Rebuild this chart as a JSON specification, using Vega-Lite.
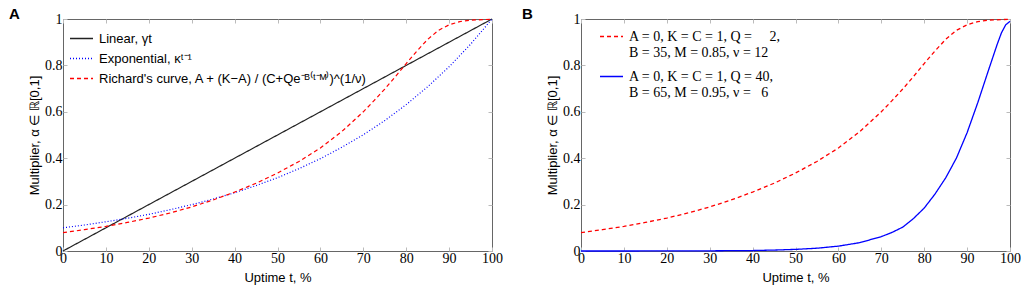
{
  "$schema": "https://vega.github.io/schema/vega-lite/v6.json",
  "background": "white",
  "padding": {"left": 8, "top": 6, "right": 5, "bottom": 2},
  "spacing": 18,
  "datasets": {
    "a": [
      {"s": "Linear, γt", "t": 0, "y": 0},
      {"s": "Linear, γt", "t": 100, "y": 1},
      {"s": "Exponential, κᵗ⁻¹", "t": 0, "y": 0.1},
      {"s": "Exponential, κᵗ⁻¹", "t": 5, "y": 0.112},
      {"s": "Exponential, κᵗ⁻¹", "t": 10, "y": 0.126},
      {"s": "Exponential, κᵗ⁻¹", "t": 15, "y": 0.141},
      {"s": "Exponential, κᵗ⁻¹", "t": 20, "y": 0.158},
      {"s": "Exponential, κᵗ⁻¹", "t": 25, "y": 0.178},
      {"s": "Exponential, κᵗ⁻¹", "t": 30, "y": 0.2},
      {"s": "Exponential, κᵗ⁻¹", "t": 35, "y": 0.224},
      {"s": "Exponential, κᵗ⁻¹", "t": 40, "y": 0.251},
      {"s": "Exponential, κᵗ⁻¹", "t": 45, "y": 0.282},
      {"s": "Exponential, κᵗ⁻¹", "t": 50, "y": 0.316},
      {"s": "Exponential, κᵗ⁻¹", "t": 55, "y": 0.355},
      {"s": "Exponential, κᵗ⁻¹", "t": 60, "y": 0.398},
      {"s": "Exponential, κᵗ⁻¹", "t": 65, "y": 0.447},
      {"s": "Exponential, κᵗ⁻¹", "t": 70, "y": 0.501},
      {"s": "Exponential, κᵗ⁻¹", "t": 75, "y": 0.562},
      {"s": "Exponential, κᵗ⁻¹", "t": 80, "y": 0.631},
      {"s": "Exponential, κᵗ⁻¹", "t": 85, "y": 0.708},
      {"s": "Exponential, κᵗ⁻¹", "t": 90, "y": 0.794},
      {"s": "Exponential, κᵗ⁻¹", "t": 95, "y": 0.891},
      {"s": "Exponential, κᵗ⁻¹", "t": 100, "y": 1.0},
      {"s": "Richard's curve, A + (K−A) / (C+Qe⁻ᴮ⁽ᵗ⁻ᴹ⁾)^(1/ν)", "t": 0, "y": 0.079},
      {"s": "Richard's curve, A + (K−A) / (C+Qe⁻ᴮ⁽ᵗ⁻ᴹ⁾)^(1/ν)", "t": 5, "y": 0.092},
      {"s": "Richard's curve, A + (K−A) / (C+Qe⁻ᴮ⁽ᵗ⁻ᴹ⁾)^(1/ν)", "t": 10, "y": 0.106},
      {"s": "Richard's curve, A + (K−A) / (C+Qe⁻ᴮ⁽ᵗ⁻ᴹ⁾)^(1/ν)", "t": 15, "y": 0.123},
      {"s": "Richard's curve, A + (K−A) / (C+Qe⁻ᴮ⁽ᵗ⁻ᴹ⁾)^(1/ν)", "t": 20, "y": 0.142},
      {"s": "Richard's curve, A + (K−A) / (C+Qe⁻ᴮ⁽ᵗ⁻ᴹ⁾)^(1/ν)", "t": 25, "y": 0.164},
      {"s": "Richard's curve, A + (K−A) / (C+Qe⁻ᴮ⁽ᵗ⁻ᴹ⁾)^(1/ν)", "t": 30, "y": 0.19},
      {"s": "Richard's curve, A + (K−A) / (C+Qe⁻ᴮ⁽ᵗ⁻ᴹ⁾)^(1/ν)", "t": 35, "y": 0.22},
      {"s": "Richard's curve, A + (K−A) / (C+Qe⁻ᴮ⁽ᵗ⁻ᴹ⁾)^(1/ν)", "t": 40, "y": 0.254},
      {"s": "Richard's curve, A + (K−A) / (C+Qe⁻ᴮ⁽ᵗ⁻ᴹ⁾)^(1/ν)", "t": 45, "y": 0.292},
      {"s": "Richard's curve, A + (K−A) / (C+Qe⁻ᴮ⁽ᵗ⁻ᴹ⁾)^(1/ν)", "t": 50, "y": 0.336},
      {"s": "Richard's curve, A + (K−A) / (C+Qe⁻ᴮ⁽ᵗ⁻ᴹ⁾)^(1/ν)", "t": 55, "y": 0.386},
      {"s": "Richard's curve, A + (K−A) / (C+Qe⁻ᴮ⁽ᵗ⁻ᴹ⁾)^(1/ν)", "t": 60, "y": 0.444},
      {"s": "Richard's curve, A + (K−A) / (C+Qe⁻ᴮ⁽ᵗ⁻ᴹ⁾)^(1/ν)", "t": 65, "y": 0.515},
      {"s": "Richard's curve, A + (K−A) / (C+Qe⁻ᴮ⁽ᵗ⁻ᴹ⁾)^(1/ν)", "t": 70, "y": 0.6},
      {"s": "Richard's curve, A + (K−A) / (C+Qe⁻ᴮ⁽ᵗ⁻ᴹ⁾)^(1/ν)", "t": 72.5, "y": 0.648},
      {"s": "Richard's curve, A + (K−A) / (C+Qe⁻ᴮ⁽ᵗ⁻ᴹ⁾)^(1/ν)", "t": 75, "y": 0.698},
      {"s": "Richard's curve, A + (K−A) / (C+Qe⁻ᴮ⁽ᵗ⁻ᴹ⁾)^(1/ν)", "t": 77.5, "y": 0.752},
      {"s": "Richard's curve, A + (K−A) / (C+Qe⁻ᴮ⁽ᵗ⁻ᴹ⁾)^(1/ν)", "t": 80, "y": 0.808},
      {"s": "Richard's curve, A + (K−A) / (C+Qe⁻ᴮ⁽ᵗ⁻ᴹ⁾)^(1/ν)", "t": 82.5, "y": 0.862},
      {"s": "Richard's curve, A + (K−A) / (C+Qe⁻ᴮ⁽ᵗ⁻ᴹ⁾)^(1/ν)", "t": 85, "y": 0.912},
      {"s": "Richard's curve, A + (K−A) / (C+Qe⁻ᴮ⁽ᵗ⁻ᴹ⁾)^(1/ν)", "t": 87.5, "y": 0.951},
      {"s": "Richard's curve, A + (K−A) / (C+Qe⁻ᴮ⁽ᵗ⁻ᴹ⁾)^(1/ν)", "t": 90, "y": 0.975},
      {"s": "Richard's curve, A + (K−A) / (C+Qe⁻ᴮ⁽ᵗ⁻ᴹ⁾)^(1/ν)", "t": 92.5, "y": 0.989},
      {"s": "Richard's curve, A + (K−A) / (C+Qe⁻ᴮ⁽ᵗ⁻ᴹ⁾)^(1/ν)", "t": 95, "y": 0.995},
      {"s": "Richard's curve, A + (K−A) / (C+Qe⁻ᴮ⁽ᵗ⁻ᴹ⁾)^(1/ν)", "t": 100, "y": 0.999}
    ],
    "b": [
      {"s": "A = 0, K = C = 1, Q = \u2007\u20072,|B = 35, M = 0.85, ν = 12", "t": 0, "y": 0.079},
      {"s": "A = 0, K = C = 1, Q = \u2007\u20072,|B = 35, M = 0.85, ν = 12", "t": 5, "y": 0.092},
      {"s": "A = 0, K = C = 1, Q = \u2007\u20072,|B = 35, M = 0.85, ν = 12", "t": 10, "y": 0.106},
      {"s": "A = 0, K = C = 1, Q = \u2007\u20072,|B = 35, M = 0.85, ν = 12", "t": 15, "y": 0.123},
      {"s": "A = 0, K = C = 1, Q = \u2007\u20072,|B = 35, M = 0.85, ν = 12", "t": 20, "y": 0.142},
      {"s": "A = 0, K = C = 1, Q = \u2007\u20072,|B = 35, M = 0.85, ν = 12", "t": 25, "y": 0.164},
      {"s": "A = 0, K = C = 1, Q = \u2007\u20072,|B = 35, M = 0.85, ν = 12", "t": 30, "y": 0.19},
      {"s": "A = 0, K = C = 1, Q = \u2007\u20072,|B = 35, M = 0.85, ν = 12", "t": 35, "y": 0.22},
      {"s": "A = 0, K = C = 1, Q = \u2007\u20072,|B = 35, M = 0.85, ν = 12", "t": 40, "y": 0.254},
      {"s": "A = 0, K = C = 1, Q = \u2007\u20072,|B = 35, M = 0.85, ν = 12", "t": 45, "y": 0.292},
      {"s": "A = 0, K = C = 1, Q = \u2007\u20072,|B = 35, M = 0.85, ν = 12", "t": 50, "y": 0.336},
      {"s": "A = 0, K = C = 1, Q = \u2007\u20072,|B = 35, M = 0.85, ν = 12", "t": 55, "y": 0.386},
      {"s": "A = 0, K = C = 1, Q = \u2007\u20072,|B = 35, M = 0.85, ν = 12", "t": 60, "y": 0.444},
      {"s": "A = 0, K = C = 1, Q = \u2007\u20072,|B = 35, M = 0.85, ν = 12", "t": 65, "y": 0.515},
      {"s": "A = 0, K = C = 1, Q = \u2007\u20072,|B = 35, M = 0.85, ν = 12", "t": 70, "y": 0.6},
      {"s": "A = 0, K = C = 1, Q = \u2007\u20072,|B = 35, M = 0.85, ν = 12", "t": 72.5, "y": 0.648},
      {"s": "A = 0, K = C = 1, Q = \u2007\u20072,|B = 35, M = 0.85, ν = 12", "t": 75, "y": 0.698},
      {"s": "A = 0, K = C = 1, Q = \u2007\u20072,|B = 35, M = 0.85, ν = 12", "t": 77.5, "y": 0.752},
      {"s": "A = 0, K = C = 1, Q = \u2007\u20072,|B = 35, M = 0.85, ν = 12", "t": 80, "y": 0.808},
      {"s": "A = 0, K = C = 1, Q = \u2007\u20072,|B = 35, M = 0.85, ν = 12", "t": 82.5, "y": 0.862},
      {"s": "A = 0, K = C = 1, Q = \u2007\u20072,|B = 35, M = 0.85, ν = 12", "t": 85, "y": 0.912},
      {"s": "A = 0, K = C = 1, Q = \u2007\u20072,|B = 35, M = 0.85, ν = 12", "t": 87.5, "y": 0.951},
      {"s": "A = 0, K = C = 1, Q = \u2007\u20072,|B = 35, M = 0.85, ν = 12", "t": 90, "y": 0.975},
      {"s": "A = 0, K = C = 1, Q = \u2007\u20072,|B = 35, M = 0.85, ν = 12", "t": 92.5, "y": 0.989},
      {"s": "A = 0, K = C = 1, Q = \u2007\u20072,|B = 35, M = 0.85, ν = 12", "t": 95, "y": 0.995},
      {"s": "A = 0, K = C = 1, Q = \u2007\u20072,|B = 35, M = 0.85, ν = 12", "t": 100, "y": 0.999},
      {"s": "A = 0, K = C = 1, Q = 40,|B = 65, M = 0.95, ν = \u20076", "t": 0, "y": 0},
      {"s": "A = 0, K = C = 1, Q = 40,|B = 65, M = 0.95, ν = \u20076", "t": 10, "y": 0},
      {"s": "A = 0, K = C = 1, Q = 40,|B = 65, M = 0.95, ν = \u20076", "t": 20, "y": 0.0003},
      {"s": "A = 0, K = C = 1, Q = 40,|B = 65, M = 0.95, ν = \u20076", "t": 30, "y": 0.0008},
      {"s": "A = 0, K = C = 1, Q = 40,|B = 65, M = 0.95, ν = \u20076", "t": 40, "y": 0.002},
      {"s": "A = 0, K = C = 1, Q = 40,|B = 65, M = 0.95, ν = \u20076", "t": 45, "y": 0.004},
      {"s": "A = 0, K = C = 1, Q = 40,|B = 65, M = 0.95, ν = \u20076", "t": 50, "y": 0.007},
      {"s": "A = 0, K = C = 1, Q = 40,|B = 65, M = 0.95, ν = \u20076", "t": 55, "y": 0.012},
      {"s": "A = 0, K = C = 1, Q = 40,|B = 65, M = 0.95, ν = \u20076", "t": 60, "y": 0.021},
      {"s": "A = 0, K = C = 1, Q = 40,|B = 65, M = 0.95, ν = \u20076", "t": 65, "y": 0.036},
      {"s": "A = 0, K = C = 1, Q = 40,|B = 65, M = 0.95, ν = \u20076", "t": 70, "y": 0.062},
      {"s": "A = 0, K = C = 1, Q = 40,|B = 65, M = 0.95, ν = \u20076", "t": 72.5, "y": 0.08},
      {"s": "A = 0, K = C = 1, Q = 40,|B = 65, M = 0.95, ν = \u20076", "t": 75, "y": 0.103},
      {"s": "A = 0, K = C = 1, Q = 40,|B = 65, M = 0.95, ν = \u20076", "t": 77.5, "y": 0.14},
      {"s": "A = 0, K = C = 1, Q = 40,|B = 65, M = 0.95, ν = \u20076", "t": 80, "y": 0.185},
      {"s": "A = 0, K = C = 1, Q = 40,|B = 65, M = 0.95, ν = \u20076", "t": 82.5, "y": 0.245},
      {"s": "A = 0, K = C = 1, Q = 40,|B = 65, M = 0.95, ν = \u20076", "t": 85, "y": 0.315},
      {"s": "A = 0, K = C = 1, Q = 40,|B = 65, M = 0.95, ν = \u20076", "t": 87.5, "y": 0.4},
      {"s": "A = 0, K = C = 1, Q = 40,|B = 65, M = 0.95, ν = \u20076", "t": 90, "y": 0.51},
      {"s": "A = 0, K = C = 1, Q = 40,|B = 65, M = 0.95, ν = \u20076", "t": 92.5, "y": 0.64},
      {"s": "A = 0, K = C = 1, Q = 40,|B = 65, M = 0.95, ν = \u20076", "t": 95, "y": 0.78},
      {"s": "A = 0, K = C = 1, Q = 40,|B = 65, M = 0.95, ν = \u20076", "t": 97, "y": 0.89},
      {"s": "A = 0, K = C = 1, Q = 40,|B = 65, M = 0.95, ν = \u20076", "t": 98, "y": 0.94},
      {"s": "A = 0, K = C = 1, Q = 40,|B = 65, M = 0.95, ν = \u20076", "t": 99, "y": 0.975},
      {"s": "A = 0, K = C = 1, Q = 40,|B = 65, M = 0.95, ν = \u20076", "t": 100, "y": 0.99}
    ]
  },
  "hconcat": [
    {
      "width": 429,
      "height": 232,
      "title": {"text": "A", "dx": -54},
      "data": {"name": "a"},
      "layer": [
        {
          "mark": {"type": "line", "strokeWidth": 1.2},
          "encoding": {
            "x": {"field": "t", "type": "quantitative", "scale": {"domain": [0, 100], "nice": false},
              "axis": {"orient": "bottom", "values": [0, 10, 20, 30, 40, 50, 60, 70, 80, 90, 100], "title": "Uptime t, %"}},
            "y": {"field": "y", "type": "quantitative", "scale": {"domain": [0, 1], "nice": false},
              "axis": {"orient": "left", "values": [0, 0.2, 0.4, 0.6, 0.8, 1], "format": "~g", "title": "Multiplier, α ∈ ℝ[0,1]"}},
            "color": {"field": "s", "type": "nominal", "title": null,
              "scale": {"domain": ["Linear, γt", "Exponential, κᵗ⁻¹", "Richard's curve, A + (K−A) / (C+Qe⁻ᴮ⁽ᵗ⁻ᴹ⁾)^(1/ν)"], "range": ["#222222", "#0000ff", "#ff0000"]},
              "legend": {"orient": "none", "legendX": 6, "legendY": 7, "labelFont": "Liberation Sans", "labelFontSize": 13, "rowPadding": 0}},
            "strokeDash": {"field": "s", "type": "nominal", "title": null,
              "scale": {"domain": ["Linear, γt", "Exponential, κᵗ⁻¹", "Richard's curve, A + (K−A) / (C+Qe⁻ᴮ⁽ᵗ⁻ᴹ⁾)^(1/ν)"], "range": [[1, 0], [1, 2], [4, 3]]},
              "legend": {"orient": "none", "legendX": 6, "legendY": 7, "labelFont": "Liberation Sans", "labelFontSize": 13, "rowPadding": 0}}
          }
        },
        {
          "mark": {"type": "line", "opacity": 0},
          "encoding": {
            "x": {"field": "t", "type": "quantitative", "axis": {"orient": "top", "labels": false, "title": null, "labelPadding": 0, "titlePadding": 0, "minExtent": 0, "maxExtent": 0, "values": [0, 10, 20, 30, 40, 50, 60, 70, 80, 90, 100]}},
            "y": {"field": "y", "type": "quantitative", "axis": {"orient": "right", "labels": false, "title": null, "labelPadding": 0, "titlePadding": 0, "minExtent": 0, "maxExtent": 0, "values": [0, 0.2, 0.4, 0.6, 0.8, 1]}}
          }
        }
      ]
    },
    {
      "width": 429,
      "height": 232,
      "title": {"text": "B", "dx": -59},
      "data": {"name": "b"},
      "layer": [
        {
          "mark": {"type": "line", "strokeWidth": 1.3},
          "encoding": {
            "x": {"field": "t", "type": "quantitative", "scale": {"domain": [0, 100], "nice": false},
              "axis": {"orient": "bottom", "values": [0, 10, 20, 30, 40, 50, 60, 70, 80, 90, 100], "title": "Uptime t, %"}},
            "y": {"field": "y", "type": "quantitative", "scale": {"domain": [0, 1], "nice": false},
              "axis": {"orient": "left", "values": [0, 0.2, 0.4, 0.6, 0.8, 1], "format": "~g", "title": "Multiplier, α ∈ ℝ[0,1]"}},
            "color": {"field": "s", "type": "nominal", "title": null,
              "scale": {"domain": ["A = 0, K = C = 1, Q = \u2007\u20072,|B = 35, M = 0.85, ν = 12", "A = 0, K = C = 1, Q = 40,|B = 65, M = 0.95, ν = \u20076"], "range": ["#ff0000", "#0000ff"]},
              "legend": {"orient": "none", "legendX": 18, "legendY": 5, "labelFont": "Liberation Serif", "labelFontSize": 14, "labelExpr": "split(datum.label, '|')", "labelBaseline": "middle", "rowPadding": 4}},
            "strokeDash": {"field": "s", "type": "nominal", "title": null,
              "scale": {"domain": ["A = 0, K = C = 1, Q = \u2007\u20072,|B = 35, M = 0.85, ν = 12", "A = 0, K = C = 1, Q = 40,|B = 65, M = 0.95, ν = \u20076"], "range": [[4, 3], [1, 0]]},
              "legend": {"orient": "none", "legendX": 18, "legendY": 5, "labelFont": "Liberation Serif", "labelFontSize": 14, "labelExpr": "split(datum.label, '|')", "labelBaseline": "middle", "rowPadding": 4}}
          }
        },
        {
          "mark": {"type": "line", "opacity": 0},
          "encoding": {
            "x": {"field": "t", "type": "quantitative", "axis": {"orient": "top", "labels": false, "title": null, "labelPadding": 0, "titlePadding": 0, "minExtent": 0, "maxExtent": 0, "values": [0, 10, 20, 30, 40, 50, 60, 70, 80, 90, 100]}},
            "y": {"field": "y", "type": "quantitative", "axis": {"orient": "right", "labels": false, "title": null, "labelPadding": 0, "titlePadding": 0, "minExtent": 0, "maxExtent": 0, "values": [0, 0.2, 0.4, 0.6, 0.8, 1]}}
          }
        }
      ]
    }
  ],
  "resolve": {
    "scale": {"color": "independent", "strokeDash": "independent"},
    "legend": {"color": "independent", "strokeDash": "independent"}
  },
  "config": {
    "view": {"stroke": "#666666", "strokeWidth": 1},
    "axis": {
      "domain": false, "grid": false, "ticks": true, "tickColor": "#bbbbbb", "tickSize": -4, "tickWidth": 1,
      "labelFont": "Liberation Serif", "labelFontSize": 14, "labelColor": "black", "labelFlush": false, "labelOverlap": false,
      "titleFont": "Liberation Sans", "titleFontSize": 13, "titleFontWeight": "normal", "titleColor": "black"
    },
    "axisX": {"labelPadding": 4, "titlePadding": 6},
    "axisY": {"labelPadding": 5, "titlePadding": 3},
    "legend": {"symbolType": "stroke", "symbolSize": 529, "symbolStrokeWidth": 1.3, "labelOffset": 5, "padding": 0, "labelLimit": 600, "labelColor": "black"},
    "title": {"anchor": "start", "frame": "group", "font": "Liberation Sans", "fontSize": 15, "fontWeight": "bold", "baseline": "alphabetic", "offset": -10, "color": "black"}
  }
}
